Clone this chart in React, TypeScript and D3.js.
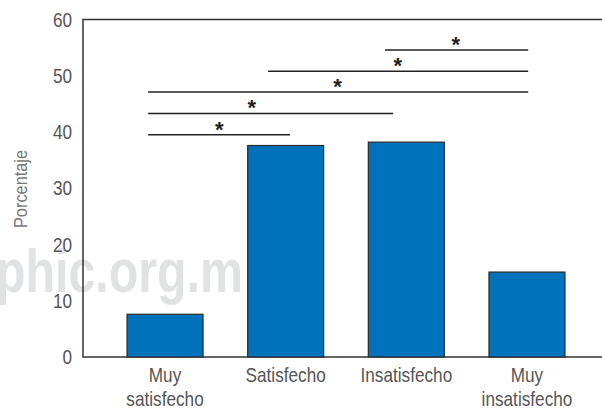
import { FC, useRef, useEffect } from 'react'
import * as d3 from 'd3'

const categories = [['Muy', 'satisfecho'], ['Satisfecho'], ['Insatisfecho'], ['Muy', 'insatisfecho']]
const percentages = [7.6, 37.6, 38.2, 15.1]
const yTicks = [0, 10, 20, 30, 40, 50, 60]

// significance brackets, positions in category index units
const compFrom = [-0.14, -0.14, -0.14, 0.854, 1.823]
const compTo = [1.036, 1.89, 3.01, 3.01, 3.01]
const compStar = [0.45, 0.72, 1.43, 1.93, 2.41]
const compLevel = [39.5, 43.3, 47.1, 50.8, 54.6]

const FONT = "'Liberation Sans', Arial, sans-serif"
const NARROW = 0.86 // squeeze to look like a condensed face

const App: FC = () => {
  const svgRef = useRef<SVGSVGElement>(null)

  useEffect(() => {
    if (!svgRef.current) return
    const svg = d3.select(svgRef.current)
    svg.selectAll('*').remove()

    const width = 602
    const height = 408
    const left = 83
    const top = 19.5
    const bottom = 357

    svg.attr('width', width).attr('height', height)

    const y = d3.scaleLinear().domain([0, 60]).range([bottom, top])
    const keys = categories.map(c => c.join(' '))
    const x = d3.scaleBand()
      .domain(keys)
      .range([left, 609])
      .paddingInner(0.37)
      .paddingOuter(0.365)
    const center = (i: number) => (x(keys[i]) || 0) + x.bandwidth() / 2
    const xi = d3.scaleLinear().domain([0, 3]).range([center(0), center(3)])

    // watermark
    svg.append('text')
      .attr('x', -4)
      .attr('y', 292)
      .attr('font-family', FONT)
      .attr('font-weight', 'bold')
      .attr('font-size', 62)
      .attr('fill', '#e1e2e4')
      .attr('textLength', 247)
      .attr('lengthAdjust', 'spacingAndGlyphs')
      .text('phic.org.m')

    // frame
    svg.append('path')
      .attr('d', `M${width},${top}H${left}V${bottom}H${width}`)
      .attr('fill', 'none')
      .attr('stroke', '#333')
      .attr('stroke-width', 1.5)

    svg.selectAll('.bar')
      .data(percentages)
      .join('rect')
      .attr('class', 'bar')
      .attr('x', (_, i) => x(keys[i]) || 0)
      .attr('y', d => y(d))
      .attr('width', x.bandwidth())
      .attr('height', d => bottom - y(d))
      .attr('fill', '#0071bb')
      .attr('stroke', '#2b2b2b')
      .attr('stroke-width', 1.2)

    svg.selectAll('.ytick')
      .data(yTicks)
      .join('text')
      .attr('class', 'ytick')
      .attr('transform', d => `translate(72,${y(d)}) scale(${NARROW},1)`)
      .attr('dy', '0.36em')
      .attr('text-anchor', 'end')
      .attr('font-family', FONT)
      .attr('font-size', 20)
      .attr('fill', '#555')
      .text(d => d)

    svg.append('text')
      .attr('transform', `translate(27,189) rotate(-90) scale(${NARROW},1)`)
      .attr('text-anchor', 'middle')
      .attr('font-family', FONT)
      .attr('font-size', 19)
      .attr('fill', '#777')
      .text('Porcentaje')

    categories.forEach((lines, i) => {
      const t = svg.append('text')
        .attr('transform', `translate(${center(i)},0) scale(${NARROW},1)`)
        .attr('text-anchor', 'middle')
        .attr('font-family', FONT)
        .attr('font-size', 20)
        .attr('fill', '#555')
      lines.forEach((line, j) => {
        t.append('tspan')
          .attr('x', 0)
          .attr('y', 382 + j * 24)
          .text(line)
      })
    })

    const comps = compLevel.map((level, i) => ({
      from: compFrom[i], to: compTo[i], star: compStar[i], level,
    }))

    svg.selectAll('.comp')
      .data(comps)
      .join('line')
      .attr('class', 'comp')
      .attr('x1', d => xi(d.from))
      .attr('x2', d => xi(d.to))
      .attr('y1', d => y(d.level))
      .attr('y2', d => y(d.level))
      .attr('stroke', '#222')
      .attr('stroke-width', 1.5)

    svg.selectAll('.star')
      .data(comps)
      .join('text')
      .attr('class', 'star')
      .attr('x', d => xi(d.star))
      .attr('y', d => y(d.level) + 2)
      .attr('text-anchor', 'middle')
      .attr('font-family', FONT)
      .attr('font-weight', 'bold')
      .attr('font-size', 22)
      .attr('fill', '#222')
      .text('*')
  }, [])

  return (
    <div style={{ position: 'absolute', left: 0, top: 0 }}>
      <svg ref={svgRef} style={{ display: 'block' }} />
    </div>
  )
}

export default App
